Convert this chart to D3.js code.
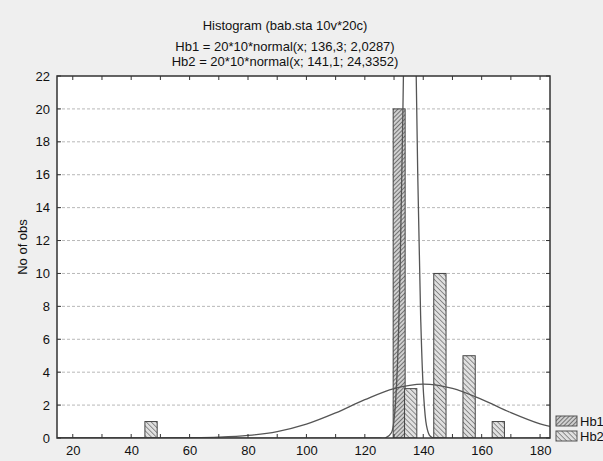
<!DOCTYPE html>
<html>
<head>
<meta charset="utf-8">
<script src="https://cdn.jsdelivr.net/npm/d3@7"></script>
<style>
 body { margin: 0; background: #efefef; }
 text { font-family: "Liberation Sans", Arial, sans-serif; fill: #111; }
</style>
</head>
<body>
<div id="chart"></div>
<script>
// histogram data (bins of width 10, labelled by bin start)
var binStarts = [40, 130, 140, 150, 160];
var hb1Counts = [0, 20, 0, 0, 0];
var hb2Counts = [1, 3, 10, 5, 1];

// fitted curves
var hb1CurveX = [14.6, 125, 127.1, 129.1, 130.1, 131.1, 132.1, 133.1, 134.1, 135.1, 136.1, 137.1, 138.1, 139.1, 140.1, 141.1, 142.1, 143.1, 145.1, 183.4];
var hb1CurveY = [0, 0, 0.009, 0.32, 1.3, 4.16, 10.47, 20.68, 32.0, 38.9, 37.06, 27.68, 16.22, 7.45, 2.69, 0.76, 0.17, 0.03, 0, 0];
var hb2CurveX = [14.6, 20, 30, 40, 50, 60, 70, 80, 90, 100, 110, 120, 130, 140, 150, 160, 170, 180, 183.4];
var hb2CurveY = [0, 0, 0.0001, 0.0007, 0.0035, 0.0145, 0.052, 0.155, 0.394, 0.843, 1.526, 2.331, 3.008, 3.279, 3.019, 2.347, 1.541, 0.855, 0.7];

var yTicks = [0, 2, 4, 6, 8, 10, 12, 14, 16, 18, 20, 22];
var xTicks = [20, 40, 60, 80, 100, 120, 140, 160, 180];
var seriesNames = ["Hb1", "Hb2"];

var W = 603, H = 461;
var margin = {top: 76, right: 53, bottom: 23, left: 57},
    width = W - margin.left - margin.right,
    height = H - margin.top - margin.bottom;

var svg = d3.select("#chart").append("svg")
  .attr("width", W)
  .attr("height", H);

var defs = svg.append("defs");
// hatch patterns
var p1 = defs.append("pattern").attr("id", "hatch1")
  .attr("patternUnits", "userSpaceOnUse").attr("width", 3).attr("height", 3)
  .attr("patternTransform", "rotate(45)");
p1.append("rect").attr("width", 3).attr("height", 3).attr("fill", "#d0d0d0");
p1.append("line").attr("x1", 0).attr("y1", 0).attr("x2", 0).attr("y2", 3)
  .attr("stroke", "#4a4a4a").attr("stroke-width", 1.4);
var p2 = defs.append("pattern").attr("id", "hatch2")
  .attr("patternUnits", "userSpaceOnUse").attr("width", 3.5).attr("height", 3.5)
  .attr("patternTransform", "rotate(-45)");
p2.append("rect").attr("width", 3.5).attr("height", 3.5).attr("fill", "#e0e0e0");
p2.append("line").attr("x1", 0).attr("y1", 0).attr("x2", 0).attr("y2", 3.5)
  .attr("stroke", "#606060").attr("stroke-width", 1.3);

defs.append("clipPath").attr("id", "clip")
  .append("rect").attr("width", width).attr("height", height);

var g = svg.append("g")
  .attr("transform", "translate(" + margin.left + "," + margin.top + ")");

var x = d3.scaleLinear().domain([14.6, 183.4]).range([0, width]);
var y = d3.scaleLinear().domain([0, 22]).range([height, 0]);

// plot background
g.append("rect").attr("width", width).attr("height", height).attr("fill", "#fff");

// dashed grid
g.append("g").selectAll("line")
  .data(yTicks.filter(function(d) { return d > 0 && d < 22; }))
  .enter().append("line")
  .attr("x1", 0).attr("x2", width)
  .attr("y1", function(d) { return y(d); })
  .attr("y2", function(d) { return y(d); })
  .attr("stroke", "#b8b8b8")
  .attr("stroke-dasharray", "3,2");

var plot = g.append("g").attr("clip-path", "url(#clip)");

// bars
plot.selectAll(".hb1").data(binStarts).enter().append("rect")
  .filter(function(d, i) { return hb1Counts[i] > 0; })
  .attr("x", function(d) { return x(d - 0.3); })
  .attr("width", function(d) { return x(d + 3.8) - x(d - 0.3); })
  .attr("y", function(d) { return y(hb1Counts[binStarts.indexOf(d)]); })
  .attr("height", function(d) { return height - y(hb1Counts[binStarts.indexOf(d)]); })
  .attr("fill", "url(#hatch1)")
  .attr("stroke", "#444").attr("stroke-width", 1);

plot.selectAll(".hb2").data(binStarts).enter().append("rect")
  .attr("x", function(d, i) { return x(d + (d == 40 ? 4.7 : 3.6)); })
  .attr("width", function(d) { return x(d + 7.8) - x(d + 3.6); })
  .attr("y", function(d, i) { return y(hb2Counts[i]); })
  .attr("height", function(d, i) { return height - y(hb2Counts[i]); })
  .attr("fill", "url(#hatch2)")
  .attr("stroke", "#444").attr("stroke-width", 1);

// fitted normal curves
var line = d3.line()
  .curve(d3.curveCatmullRom)
  .x(function(d) { return x(d[0]); })
  .y(function(d) { return y(d[1]); });

plot.append("path")
  .datum(d3.zip(hb2CurveX, hb2CurveY))
  .attr("d", line)
  .attr("fill", "none").attr("stroke", "#555").attr("stroke-width", 1.3);

plot.append("path")
  .datum(d3.zip(hb1CurveX, hb1CurveY))
  .attr("d", line)
  .attr("fill", "none").attr("stroke", "#555").attr("stroke-width", 1.3);

// axes
var xAxis = d3.axisBottom(x).tickValues(xTicks).tickSize(0).tickPadding(8);
var gx = g.append("g").attr("transform", "translate(0," + height + ")").call(xAxis);
gx.select(".domain").remove();
gx.selectAll("text").style("font-size", "13px").attr("fill", "#111");

var yAxis = d3.axisLeft(y).tickValues(yTicks).tickSize(0).tickPadding(7);
var gy = g.append("g").call(yAxis);
gy.select(".domain").remove();
gy.selectAll("text").style("font-size", "13px").attr("fill", "#111");

// inner ticks on all four sides
var minorX = d3.range(20, 181, 10);
g.append("g").selectAll("line").data(minorX).enter().append("line")
  .attr("x1", function(d) { return x(d); }).attr("x2", function(d) { return x(d); })
  .attr("y1", height).attr("y2", height - 4).attr("stroke", "#333");
g.append("g").selectAll("line").data(minorX).enter().append("line")
  .attr("x1", function(d) { return x(d); }).attr("x2", function(d) { return x(d); })
  .attr("y1", 0).attr("y2", 4).attr("stroke", "#333");
g.append("g").selectAll("line").data(yTicks).enter().append("line")
  .attr("x1", 0).attr("x2", 4)
  .attr("y1", function(d) { return y(d); }).attr("y2", function(d) { return y(d); })
  .attr("stroke", "#333");
g.append("g").selectAll("line").data(yTicks).enter().append("line")
  .attr("x1", width - 4).attr("x2", width)
  .attr("y1", function(d) { return y(d); }).attr("y2", function(d) { return y(d); })
  .attr("stroke", "#333");

// frame
g.append("rect").attr("width", width).attr("height", height)
  .attr("fill", "none").attr("stroke", "#333").attr("stroke-width", 1.5);

// y label
g.append("text")
  .attr("transform", "rotate(-90)")
  .attr("x", -height / 2 + 10)
  .attr("y", -margin.left + 27)
  .style("text-anchor", "middle")
  .style("font-size", "13px")
  .text("No of obs");

// titles
var cx = 285;
svg.append("text").attr("x", cx).attr("y", 30)
  .style("text-anchor", "middle").style("font-size", "13px")
  .text("Histogram (bab.sta 10v*20c)");
svg.append("text").attr("x", cx).attr("y", 51)
  .style("text-anchor", "middle").style("font-size", "13px")
  .text("Hb1 = 20*10*normal(x; 136,3; 2,0287)");
svg.append("text").attr("x", cx).attr("y", 66)
  .style("text-anchor", "middle").style("font-size", "13px")
  .text("Hb2 = 20*10*normal(x; 141,1; 24,3352)");

// legend
var leg = svg.append("g").attr("transform", "translate(556,416)");
seriesNames.forEach(function(name, i) {
  leg.append("rect").attr("x", 0).attr("y", i * 15)
    .attr("width", 21).attr("height", 10)
    .attr("fill", i == 0 ? "url(#hatch1)" : "url(#hatch2)")
    .attr("stroke", "#555");
  leg.append("text").attr("x", 24).attr("y", i * 15 + 10)
    .style("font-size", "13px")
    .text(name);
});
</script>
</body>
</html>
